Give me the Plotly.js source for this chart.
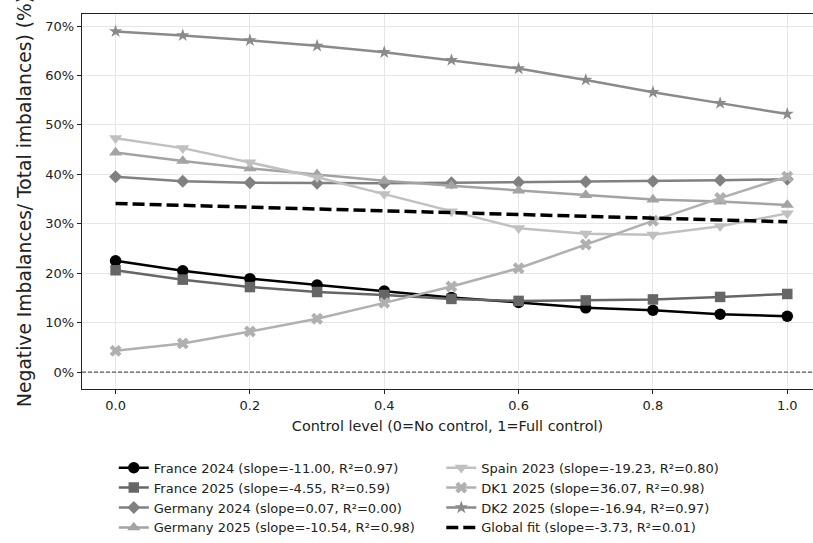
<!DOCTYPE html>
<html>
<head>
<meta charset="utf-8">
<script src="https://cdn.plot.ly/plotly-3.0.1.min.js"></script>
<style>
html, body { margin:0; padding:0; background:#fff; }
#chart { width:813px; height:543px; }
</style>
</head>
<body>
<div id="chart"></div>
<script>
// ---- data ----
const controlLevels = [0.0, 0.1, 0.2, 0.3, 0.4, 0.5, 0.6, 0.7, 0.8, 0.9, 1.0];
const france2024  = [22.5, 20.5, 18.9, 17.6, 16.4, 15.1, 14.1, 13.0, 12.5, 11.7, 11.3];
const france2025  = [20.6, 18.7, 17.2, 16.2, 15.6, 14.8, 14.4, 14.5, 14.7, 15.2, 15.8];
const germany2024 = [39.5, 38.6, 38.3, 38.2, 38.2, 38.3, 38.4, 38.5, 38.6, 38.8, 39.0];
const germany2025 = [44.4, 42.7, 41.2, 40.0, 38.7, 37.7, 36.7, 35.8, 34.9, 34.5, 33.8];
const spain2023   = [47.3, 45.3, 42.4, 39.4, 36.0, 32.5, 29.1, 28.0, 27.8, 29.5, 32.1];
const dk1_2025    = [4.3, 5.8, 8.2, 10.8, 14.0, 17.3, 21.0, 25.8, 30.6, 35.2, 39.5];
const dk2_2025    = [68.9, 68.1, 67.1, 66.0, 64.7, 63.1, 61.4, 59.1, 56.6, 54.4, 52.2];
const globalFitX  = [0.0, 1.0];
const globalFitY  = [34.1, 30.4];
const seriesNames = [
  "France 2024 (slope=-11.00, R²=0.97)",
  "France 2025 (slope=-4.55, R²=0.59)",
  "Germany 2024 (slope=0.07, R²=0.00)",
  "Germany 2025 (slope=-10.54, R²=0.98)",
  "Spain 2023 (slope=-19.23, R²=0.80)",
  "DK1 2025 (slope=36.07, R²=0.98)",
  "DK2 2025 (slope=-16.94, R²=0.97)",
  "Global fit (slope=-3.73, R²=0.01)"
];
const xTickVals = [0.0, 0.2, 0.4, 0.6, 0.8, 1.0];
const xTickText = ["0.0", "0.2", "0.4", "0.6", "0.8", "1.0"];
const yTickVals = [0, 10, 20, 30, 40, 50, 60, 70];
const yTickText = ["0%", "10%", "20%", "30%", "40%", "50%", "60%", "70%"];

// ---- styles ----
const seriesData = [france2024, france2025, germany2024, germany2025, spain2023, dk1_2025, dk2_2025];
const colors  = ["#000000", "#666666", "#808080", "#a3a3a3", "#c0c0c0", "#b0b0b0", "#8a8a8a"];
const symbols = ["circle", "square", "diamond", "triangle-up", "triangle-down", "x", "star"];
const sizes   = [11.5, 10.5, 10, 11.5, 11.5, 10.5, 10];

const traces = seriesData.map((ys, i) => ({
  type: "scatter", mode: "lines+markers",
  x: controlLevels, y: ys, name: seriesNames[i],
  line: {color: colors[i], width: 2.5},
  marker: {symbol: symbols[i], size: sizes[i], color: colors[i], line: {width: 0}},
  legend: i < 4 ? "legend" : "legend2"
}));
traces.push({
  type: "scatter", mode: "lines",
  x: globalFitX, y: globalFitY, name: seriesNames[7],
  line: {color: "#000000", width: 3.5, dash: "12px,5px"},
  legend: "legend2"
});

const FONT = "DejaVu Sans, Liberation Sans, sans-serif";
const axisCommon = {
  showline: true, linecolor: "#222", linewidth: 1.2,
  ticks: "outside", ticklen: 4, tickwidth: 1, tickcolor: "#222",
  showgrid: true, gridcolor: "#e6e6e6", gridwidth: 1,
  zeroline: false, automargin: false,
  tickfont: {family: FONT, size: 13, color: "#222"}
};

const layout = {
  width: 813, height: 543,
  margin: {l: 82, r: 0, t: 14, b: 152},
  paper_bgcolor: "#fff", plot_bgcolor: "#fff",
  font: {family: FONT, color: "#222"},
  showlegend: true,
  xaxis: Object.assign({}, axisCommon, {
    range: [-0.05, 1.0383], tickvals: xTickVals, ticktext: xTickText, mirror: true,
    title: {text: "Control level (0=No control, 1=Full control)", font: {family: FONT, size: 14.4, color: "#222"}, standoff: 9}
  }),
  yaxis: Object.assign({}, axisCommon, {
    range: [-3.42, 72.43], tickvals: yTickVals, ticktext: yTickText, mirror: false,
    title: {text: "Negative Imbalances/ Total imbalances) (%)", font: {family: FONT, size: 18.7, color: "#222"}, standoff: 8}
  }),
  legend: {
    x: 0.0435, y: -0.170, xanchor: "left", yanchor: "top",
    bgcolor: "rgba(0,0,0,0)", borderwidth: 0,
    font: {family: FONT, size: 13, color: "#222"}, tracegroupgap: 0
  },
  legend2: {
    x: 0.4915, y: -0.170, xanchor: "left", yanchor: "top",
    bgcolor: "rgba(0,0,0,0)", borderwidth: 0,
    font: {family: FONT, size: 13, color: "#222"}, tracegroupgap: 0
  },
  shapes: [{
    type: "line", xref: "paper", yref: "y", x0: 0, x1: 1, y0: 0, y1: 0,
    line: {color: "#333", width: 1, dash: "4px,2px"}, layer: "above"
  }]
};

Plotly.newPlot("chart", traces, layout, {displayModeBar: false, responsive: false, staticPlot: true});
</script>
</body>
</html>
